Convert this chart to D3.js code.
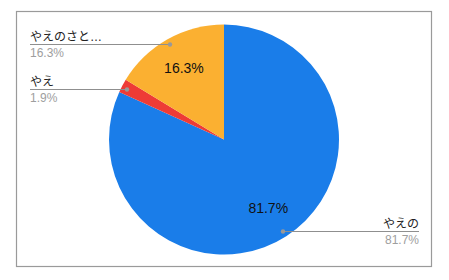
<!DOCTYPE html>
<html>
<head>
<meta charset="utf-8">
<script src="https://cdn.jsdelivr.net/npm/d3@7"></script>
<style>
  body { margin: 0; background: #fff; }
  text { font-family: "Liberation Sans", Arial, "Noto Sans CJK JP", sans-serif; }
</style>
</head>
<body>
<svg id="chart" width="449" height="280"></svg>
<script>
const categories = ["やえの", "やえ", "やえのさと…"];
const values = [81.7, 1.9, 16.3];
const colors = ["#1a7de9", "#ee3b36", "#fbb031"];

const svg = d3.select("#chart");

// frame
svg.append("rect")
  .attr("x", 16.5).attr("y", 11.5)
  .attr("width", 415).attr("height", 255)
  .attr("fill", "none")
  .attr("stroke", "#9a9a9a")
  .attr("stroke-width", 1.2);

const cx = 224, cy = 139.5, r = 115;
const g = svg.append("g").attr("transform", `translate(${cx},${cy})`);

const pie = d3.pie().sort(null).value(d => d.v);
const data = categories.map((c, i) => ({ name: c, v: values[i], color: colors[i] }));
const arcs = pie(data);
const arc = d3.arc().innerRadius(0).outerRadius(r);

g.selectAll("path")
  .data(arcs)
  .enter()
  .append("path")
  .attr("d", arc)
  .attr("fill", d => d.data.color);

// inside labels for big slices
const inner = d3.arc().innerRadius(r * 0.71).outerRadius(r * 0.71);
g.selectAll(".inlabel")
  .data(arcs.filter(d => d.data.v > 5))
  .enter()
  .append("text")
  .attr("class", "inlabel")
  .attr("transform", d => {
    const [x, y] = inner.centroid(d);
    return `translate(${x},${y})`;
  })
  .attr("text-anchor", "middle")
  .attr("dy", "0.35em")
  .attr("font-size", 14)
  .attr("fill", "#111")
  .text(d => d.data.v.toFixed(1) + "%");

// leader labels: dot point on slice, line to edge
const leaders = [
  { idx: 0, pt: [283, 231], end: 419, anchor: "end" },
  { idx: 1, pt: [127, 89], end: 30, anchor: "start" },
  { idx: 2, pt: [170, 44], end: 30, anchor: "start" }
];

leaders.forEach(l => {
  const d = arcs[l.idx];
  const [x, y] = l.pt;
  svg.append("line")
    .attr("x1", x).attr("y1", y + 0.5)
    .attr("x2", l.end).attr("y2", y + 0.5)
    .attr("stroke", "#8f8f8f")
    .attr("stroke-width", 1);
  svg.append("circle")
    .attr("cx", x).attr("cy", y + 0.5)
    .attr("r", 2.2)
    .attr("fill", "#999");
  svg.append("text")
    .attr("x", l.end).attr("y", y - 3)
    .attr("text-anchor", l.anchor)
    .attr("font-size", 12)
    .attr("fill", "#222")
    .text(d.data.name);
  svg.append("text")
    .attr("x", l.end).attr("y", y + 13)
    .attr("text-anchor", l.anchor)
    .attr("font-size", 12)
    .attr("fill", "#9e9e9e")
    .text(d.data.v.toFixed(1) + "%");
});
</script>
</body>
</html>
